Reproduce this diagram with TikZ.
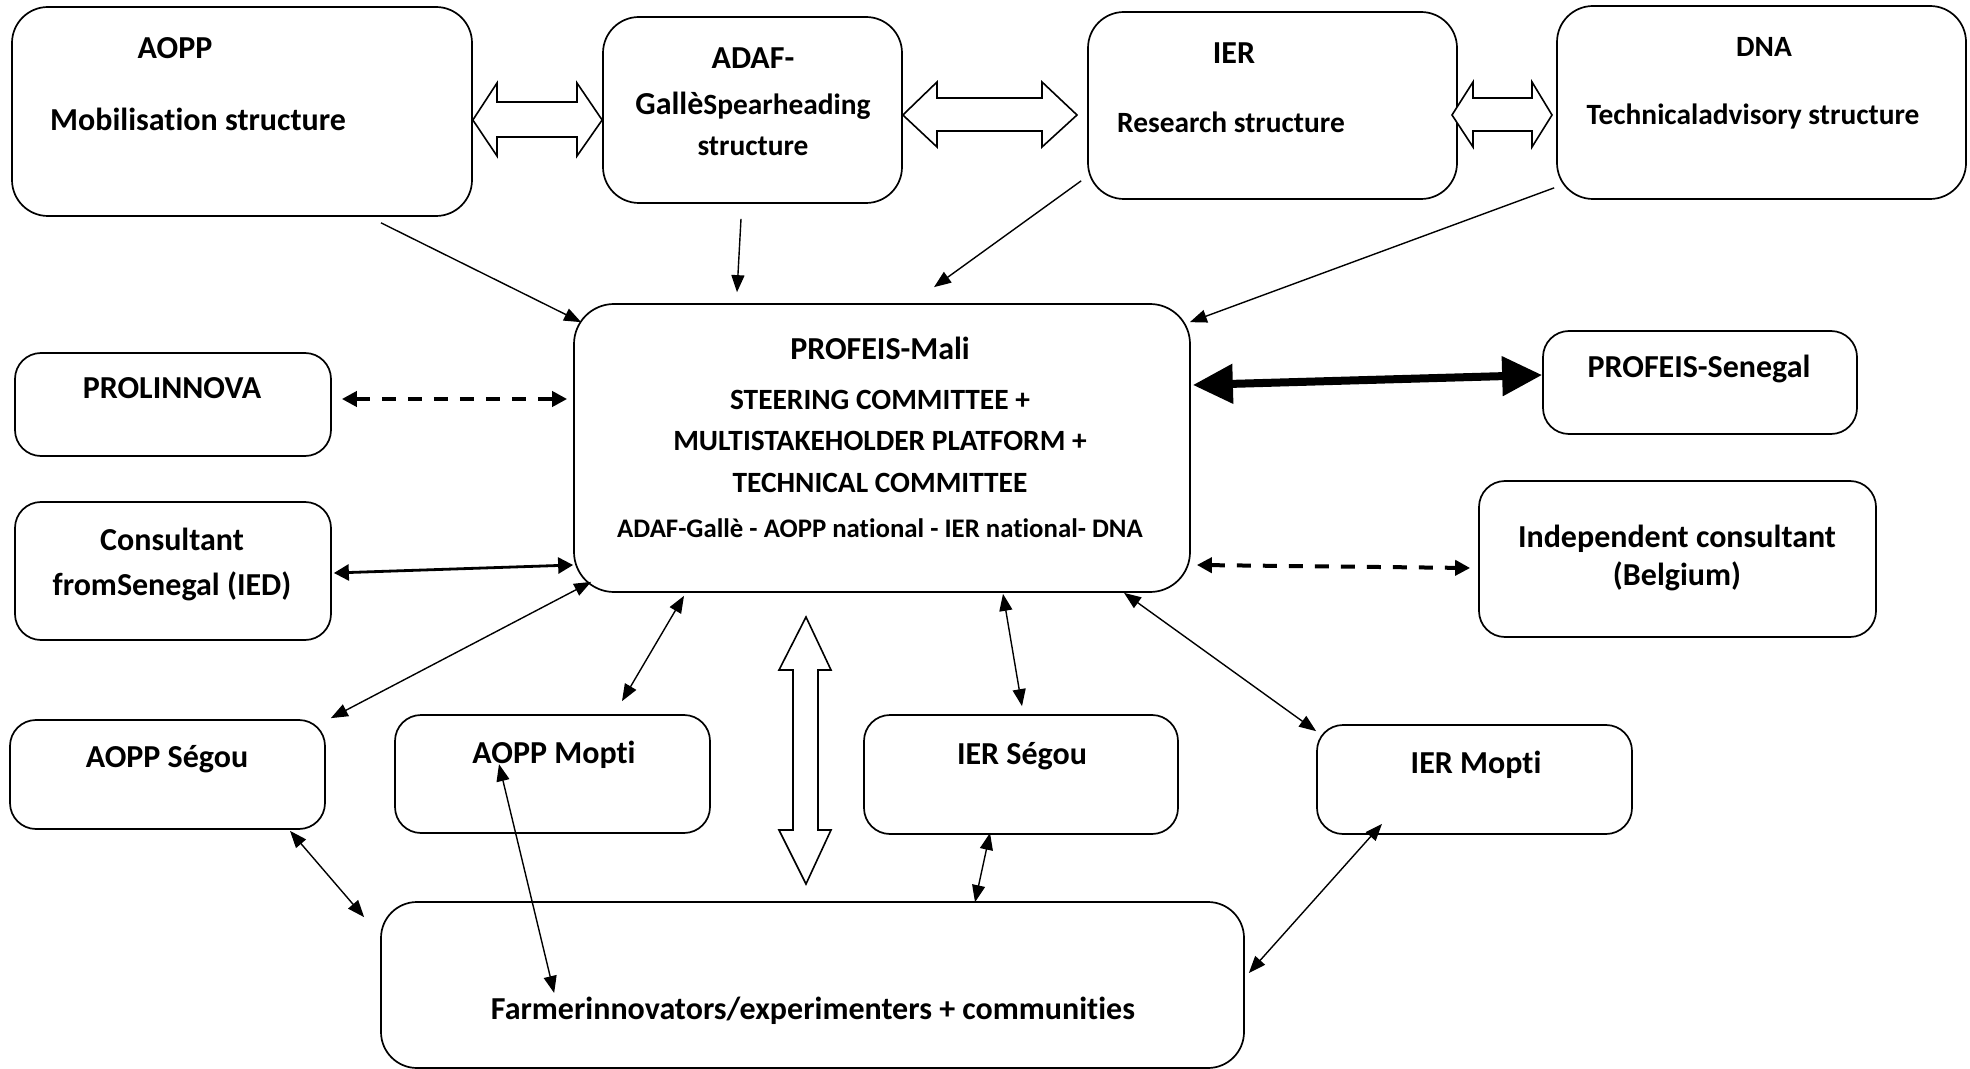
\documentclass[tikz,border=0pt]{standalone}
\usepackage{fontspec}
\setmainfont[Ligatures=NoCommon]{Carlito}
\usetikzlibrary{fit,arrows.meta,calc}
\begin{document}
\begin{tikzpicture}[x=0.5pt,y=-0.5pt,
  box/.style={draw, line width=0.85pt, inner sep=0pt, rounded corners=13pt},
  bigbox/.style={box, rounded corners=18pt},
  lbl/.style={font=\bfseries\fontsize{16}{19}\selectfont, anchor=base, inner sep=0pt},
  mlbl/.style={font=\bfseries\fontsize{14.7}{17}\selectfont, anchor=base, inner sep=0pt},
  slbl/.style={font=\bfseries\fontsize{13.4}{16}\selectfont, anchor=base, inner sep=0pt},
  tip/.tip={Triangle[length=8.5pt,width=6.5pt]},
  arr/.style={line width=0.7pt, {tip}-{tip}},
  onearr/.style={line width=0.7pt, -{tip}},
  thickarr/.style={line width=1.4pt, {Triangle[length=7.5pt,width=8pt]}-{Triangle[length=7.5pt,width=8pt]}},
  hugearr/.style={line width=4pt, {Triangle[length=20pt,width=19pt]}-{Triangle[length=20pt,width=19pt]}},
  dasharr/.style={line width=2pt, dash pattern=on 7pt off 6pt, {Triangle[length=7.5pt,width=7.5pt]}-{Triangle[length=7.5pt,width=7.5pt]}},
  hollow/.style={draw, line width=0.8pt, fill=white, line join=miter}]
\useasboundingbox (0,0) rectangle (1970,1069);
\fill[white] (0,0) rectangle (1970,1069);

% boxes
\node[bigbox, fit={(12,7) (472,216)}] (aopp) {};
\node[bigbox, fit={(603,17) (902,203)}] (adaf) {};
\node[bigbox, fit={(1088,12) (1457,199)}] (ier) {};
\node[bigbox, fit={(1557,6) (1966,199)}] (dna) {};
\node[bigbox, rounded corners=20pt, fit={(574,304) (1190,592)}] (mali) {};
\node[box, fit={(15,353) (331,456)}] (prolin) {};
\node[box, fit={(15,502) (331,640)}] (consult) {};
\node[box, fit={(1543,331) (1857,434)}] (senegal) {};
\node[box, fit={(1479,481) (1876,637)}] (indep) {};
\node[box, fit={(10,720) (325,829)}] (aseg) {};
\node[box, fit={(395,715) (710,833)}] (amop) {};
\node[box, fit={(864,715) (1178,834)}] (iseg) {};
\node[box, fit={(1317,725) (1632,834)}] (imop) {};
\node[bigbox, fit={(381,902) (1244,1068)}] (farm) {};

% texts
\node[lbl] (t1) at (175,59) {AOPP};
\node[lbl] (t2) at (198,131) {Mobilisation structure};
\node[lbl] (t3) at (753,69) {ADAF-};
\node[lbl] (t4) at (753,115) {Gallè{\fontsize{14.7}{17}\selectfont Spearheading}};
\node[mlbl] (t5) at (753,156) {structure};
\node[lbl] (t6) at (1234,64) {IER};
\node[mlbl] (t7) at (1231,133) {Research structure};
\node[mlbl] (t8) at (1764,57) {DNA};
\node[mlbl] (t9) at (1753,125) {Technicaladvisory structure};
\node[lbl] (t10) at (880,360) {PROFEIS-Mali};
\node[mlbl] (t11) at (880,410) {STEERING COMMITTEE +};
\node[mlbl] (t12) at (880,451) {MULTISTAKEHOLDER PLATFORM +};
\node[mlbl] (t13) at (880,492) {TECHNICAL COMMITTEE};
\node[slbl] (t14) at (880,538) {ADAF-Gallè - AOPP national - IER national- DNA};
\node[lbl] (t15) at (172,399) {PROLINNOVA};
\node[lbl] (t16) at (172,550) {Consultant};
\node[lbl] (t17) at (172,595) {fromSenegal (IED)};
\node[lbl] (t18) at (1699,378) {PROFEIS-Senegal};
\node[lbl] (t19) at (1677,547) {Independent consultant};
\node[lbl] (t20) at (1677,585) {(Belgium)};
\node[lbl] (t21) at (167,767) {AOPP Ségou};
\node[lbl] (t22) at (554,763) {AOPP Mopti};
\node[lbl] (t23) at (1022,764) {IER Ségou};
\node[lbl] (t24) at (1476,773) {IER Mopti};
\node[lbl] (t25) at (813,1019) {Farmerinnovators/experimenters + communities};

% hollow block arrows between top boxes
\draw[hollow] (aopp.east |- 0,120) -- (497,83) -- (497,102) -- (577,102) -- (577,83)
  -- (adaf.west |- 0,120) -- (577,156) -- (577,137) -- (497,137) -- (497,156) -- cycle;
\draw[hollow] (adaf.east |- 0,115) -- (937,82) -- (937,98) -- (1042,98) -- (1042,82)
  -- (1077,115) -- (1042,147) -- (1042,131) -- (937,131) -- (937,147) -- cycle;
\draw[hollow] (1452,115) -- (1473,82) -- (1473,98) -- (1532,98) -- (1532,82)
  -- (1552,115) -- (1532,147) -- (1532,131) -- (1473,131) -- (1473,147) -- cycle;
% vertical hollow arrow
\draw[hollow] (806,617) -- (831,670) -- (818,670) -- (818,830) -- (831,830)
  -- (806,884) -- (779,830) -- (793,830) -- (793,670) -- (779,670) -- cycle;

% one-way arrows into PROFEIS-Mali
\draw[onearr] ([shift={(139,6)}]aopp.south) -- ([shift={(8,19)}]mali.north west);
\draw[onearr] ([shift={(-11.5,15)}]adaf.south) -- ([shift={(-145,-11)}]mali.north);
\draw[onearr] ([shift={(-6,-19)}]ier.south west) -- ([shift={(52,-16)}]mali.north);
\draw[onearr] ([shift={(-2,-12)}]dna.south west) -- ([shift={(-1,19)}]mali.north east);

% side links
\draw[dasharr] ([shift={(10,-5.5)}]prolin.east) -- ([shift={(-6,-49)}]mali.west);
\draw[thickarr] ([shift={(2,2)}]consult.east) -- ([shift={(0,117)}]mali.west);
\draw[hugearr] ([shift={(2,-63)}]mali.east) -- ([shift={(0,-7.5)}]senegal.west);
\draw[dasharr] ([shift={(6,117)}]mali.east) -- ([shift={(-8,9)}]indep.west);

% regional links
\draw[arr] ([shift={(5,-1)}]aseg.north east) -- ([shift={(18,-11)}]mali.south west);
\draw[arr] ([shift={(69.5,-13)}]amop.north) -- ([shift={(-198,3)}]mali.south);
\draw[arr] ([shift={(1,-8)}]iseg.north) -- ([shift={(121,1)}]mali.south);
\draw[arr] ([shift={(0,7)}]imop.north west) -- ([shift={(242,0)}]mali.south);

% links to farmers
\draw[arr] ([shift={(122.5,1)}]aseg.south) -- ([shift={(-16,16)}]farm.north west);
\draw[arr] ([shift={(-53.5,50)}]amop.north) -- ([shift={(174,8)}]farm.west);
\draw[arr] ([shift={(-31,-2)}]iseg.south) -- ([shift={(162.5,1)}]farm.north);
\draw[arr] ([shift={(-92.5,-11)}]imop.south) -- ([shift={(4,-12)}]farm.east);
\end{tikzpicture}
\end{document}
